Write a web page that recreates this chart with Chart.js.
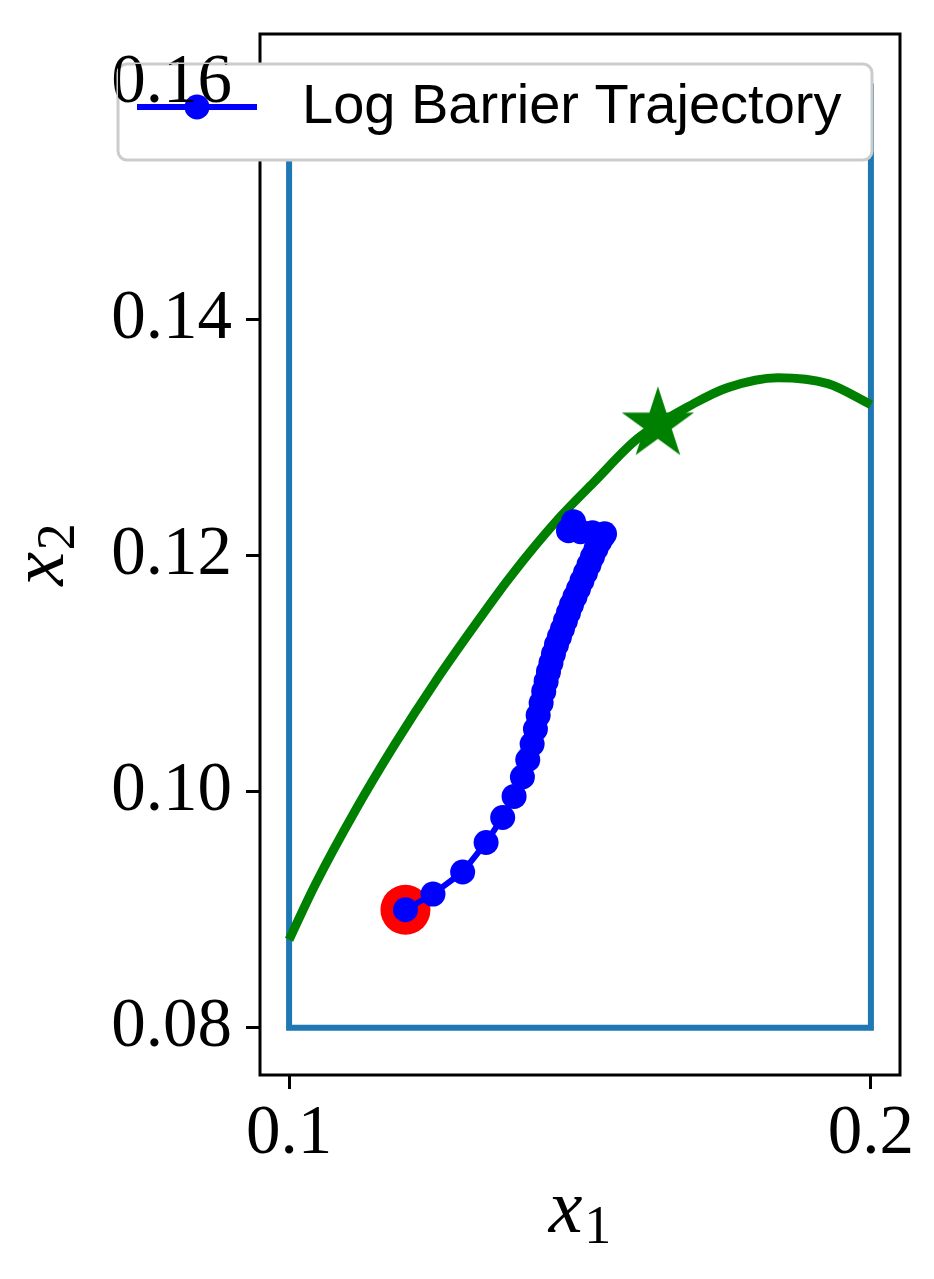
<!DOCTYPE html>
<html>
<head>
<meta charset="utf-8">
<script src="https://cdn.jsdelivr.net/npm/chart.js@4.4.1/dist/chart.umd.min.js"></script>
<style>
    body { margin: 0; background: #ffffff; }
    canvas { display: block; }
</style>
</head>
<body>
<canvas id="trajectoryCanvas" width="934" height="1279"></canvas>
<script>
// log barrier iterates (x1, x2)
const trajX1 = [0.1200, 0.12473, 0.12983, 0.13386, 0.13671, 0.13867, 0.14010, 0.14102, 0.14177, 0.14234,
    0.14281, 0.14332, 0.14377, 0.14418, 0.14458, 0.14501, 0.14544, 0.14596, 0.14647, 0.14699,
    0.14750, 0.14802, 0.14854, 0.14914, 0.14974, 0.15034, 0.15095, 0.15155, 0.15215, 0.15275,
    0.15336, 0.15387, 0.15422, 0.15215, 0.15009, 0.14802, 0.14888];
const trajX2 = [0.0900, 0.09133, 0.09320, 0.09570, 0.09782, 0.09960, 0.10125, 0.10271, 0.10404, 0.10531,
    0.10647, 0.10752, 0.10850, 0.10935, 0.11017, 0.11093, 0.11169, 0.11246, 0.11314, 0.11381,
    0.11449, 0.11517, 0.11585, 0.11653, 0.11720, 0.11788, 0.11856, 0.11924, 0.11992, 0.12059,
    0.12119, 0.12161, 0.12186, 0.12195, 0.12203, 0.12212, 0.12288];

// green constraint curve
const boundaryX1 = [0.1000, 0.10448, 0.11136, 0.11824, 0.12513, 0.13150, 0.13804, 0.14664,
    0.15232, 0.15990, 0.16954, 0.17539, 0.18399, 0.19260, 0.2000];
const boundaryX2 = [0.08746, 0.09212, 0.09839, 0.10407, 0.10932, 0.11381, 0.11822, 0.12331,
    0.12619, 0.12992, 0.13288, 0.13424, 0.13508, 0.13458, 0.13280];

// box constraints (blue)
const boxX1 = [0.1, 0.1, 0.2, 0.2];
const boxX2 = [0.16, 0.08, 0.08, 0.16];

const startPoint = [0.1200, 0.0900];
const optimumPoint = [0.16339, 0.13113];

const xTicks = [0.1, 0.2];
const yTicks = [0.08, 0.10, 0.12, 0.14, 0.16];

const legendLabel = "Log Barrier Trajectory";

const blue = "#0000ff";
const green = "#008000";
const red = "#ff0000";
const boxBlue = "#1f77b4";

function toPoints(xs, ys) {
    return xs.map((x, i) => ({ x: x, y: ys[i] }));
}

// filled star marker, like matplotlib's "*"
function makeStar(radius, color) {
    const size = Math.ceil(radius * 2 + 4);
    const c = document.createElement("canvas");
    c.width = size;
    c.height = size;
    const g = c.getContext("2d");
    const inner = radius * 0.382;
    g.beginPath();
    for (let k = 0; k < 10; k++) {
        const r = k % 2 == 0 ? radius : inner;
        const a = -Math.PI / 2 + k * Math.PI / 5;
        const px = size / 2 + r * Math.cos(a);
        const py = size / 2 + r * Math.sin(a);
        if (k == 0) g.moveTo(px, py); else g.lineTo(px, py);
    }
    g.closePath();
    g.fillStyle = color;
    g.fill();
    return c;
}

const serif = "'Liberation Serif', 'DejaVu Serif', serif";
const tickFont = { family: serif, size: 69 };

// italic variable with an upright subscript, e.g. x with 1
function drawSubscripted(ctx, main, sub, cx, baseY, rotation) {
    ctx.save();
    ctx.translate(cx, baseY);
    ctx.rotate(rotation);
    ctx.fillStyle = "#000000";
    ctx.textAlign = "left";
    ctx.textBaseline = "alphabetic";
    ctx.font = "italic 76px " + serif;
    const w1 = ctx.measureText(main).width;
    ctx.font = "54px " + serif;
    const w2 = ctx.measureText(sub).width;
    const start = -(w1 + w2 + 2) / 2;
    ctx.font = "italic 76px " + serif;
    ctx.fillText(main, start, 0);
    ctx.font = "54px " + serif;
    ctx.fillText(sub, start + w1 + 2, 11);
    ctx.restore();
}

const frameAndLegend = {
    id: "frameAndLegend",
    afterDatasetsDraw(chart) {
        const ctx = chart.ctx;
        const area = chart.chartArea;
        ctx.save();
        ctx.strokeStyle = "#000000";
        ctx.lineWidth = 3;
        ctx.strokeRect(area.left, area.top, area.right - area.left, area.bottom - area.top);

        // legend box, upper part of the axes
        const boxLeft = area.left - 142;
        const boxTop = area.top + 30;
        const boxWidth = 754;
        const boxHeight = 96;
        ctx.beginPath();
        ctx.roundRect(boxLeft, boxTop, boxWidth, boxHeight, 9);
        ctx.fillStyle = "#ffffff";
        ctx.fill();
        ctx.lineWidth = 3;
        ctx.strokeStyle = "#cccccc";
        ctx.stroke();

        const midY = boxTop + 43;
        ctx.beginPath();
        ctx.moveTo(boxLeft + 19, midY);
        ctx.lineTo(boxLeft + 139, midY);
        ctx.strokeStyle = blue;
        ctx.lineWidth = 6;
        ctx.stroke();
        ctx.beginPath();
        ctx.arc(boxLeft + 79, midY, 12.5, 0, 2 * Math.PI);
        ctx.fillStyle = blue;
        ctx.fill();

        ctx.font = "56px 'Liberation Sans', Arial, sans-serif";
        ctx.fillStyle = "#000000";
        ctx.textBaseline = "middle";
        ctx.textAlign = "left";
        ctx.fillText(legendLabel, boxLeft + 184, midY + 1);

        // the 0.16 label sits on top of the legend
        ctx.beginPath();
        ctx.rect(boxLeft, boxTop, boxWidth, boxHeight);
        ctx.clip();
        chart.scales.y.drawLabels(area);
        ctx.restore();
    },
    afterDraw(chart) {
        const ctx = chart.ctx;
        const area = chart.chartArea;
        drawSubscripted(ctx, "x", "1", (area.left + area.right) / 2, area.bottom + 157, 0);
        drawSubscripted(ctx, "x", "2", area.left - 197, (area.top + area.bottom) / 2, -Math.PI / 2);
    }
};

const chart = new Chart(document.querySelector("#trajectoryCanvas"), {
    type: "scatter",
    data: {
        datasets: [
            {
                label: legendLabel,
                data: toPoints(trajX1, trajX2),
                showLine: true,
                borderColor: blue,
                borderWidth: 6,
                backgroundColor: blue,
                pointRadius: 12.5,
                pointBorderWidth: 0,
                pointBackgroundColor: blue
            },
            {
                label: "start",
                data: [{ x: startPoint[0], y: startPoint[1] }],
                pointRadius: 25,
                pointBorderWidth: 0,
                pointBackgroundColor: red
            },
            {
                label: "optimum",
                data: [{ x: optimumPoint[0], y: optimumPoint[1] }],
                pointStyle: makeStar(38, green),
                pointRadius: 38
            },
            {
                label: "boundary",
                data: toPoints(boundaryX1, boundaryX2),
                showLine: true,
                borderColor: green,
                borderWidth: 9,
                pointRadius: 0,
                cubicInterpolationMode: "monotone"
            },
            {
                label: "box",
                data: toPoints(boxX1, boxX2),
                showLine: true,
                borderColor: boxBlue,
                borderWidth: 6,
                pointRadius: 0
            }
        ]
    },
    options: {
        responsive: false,
        animation: false,
        layout: {
            autoPadding: false,
            padding: { top: 34, right: 34, left: 0, bottom: 0 }
        },
        plugins: {
            legend: { display: false },
            tooltip: { enabled: false }
        },
        scales: {
            x: {
                type: "linear",
                min: 0.095,
                max: 0.205,
                afterBuildTicks: s => { s.ticks = xTicks.map(v => ({ value: v })); },
                afterFit: s => {
                    s.height = 204;
                    s.paddingLeft = 0;
                    s.paddingRight = 0;
                },
                ticks: {
                    font: tickFont,
                    color: "#000000",
                    padding: 4,
                    autoSkip: false,
                    maxRotation: 0,
                    callback: v => v.toFixed(1)
                },
                grid: {
                    drawOnChartArea: false,
                    drawTicks: true,
                    tickLength: 14,
                    tickWidth: 3,
                    tickColor: "#000000"
                },
                border: { display: false }
            },
            y: {
                type: "linear",
                min: 0.076,
                max: 0.1642,
                afterBuildTicks: s => { s.ticks = yTicks.map(v => ({ value: v })); },
                afterFit: s => {
                    s.width = 260;
                    s.paddingTop = 0;
                    s.paddingBottom = 0;
                },
                ticks: {
                    font: tickFont,
                    color: "#000000",
                    padding: 14,
                    autoSkip: false,
                    callback: v => v.toFixed(2)
                },
                grid: {
                    drawOnChartArea: false,
                    drawTicks: true,
                    tickLength: 14,
                    tickWidth: 3,
                    tickColor: "#000000"
                },
                border: { display: false }
            }
        }
    },
    plugins: [frameAndLegend]
});
</script>
</body>
</html>
